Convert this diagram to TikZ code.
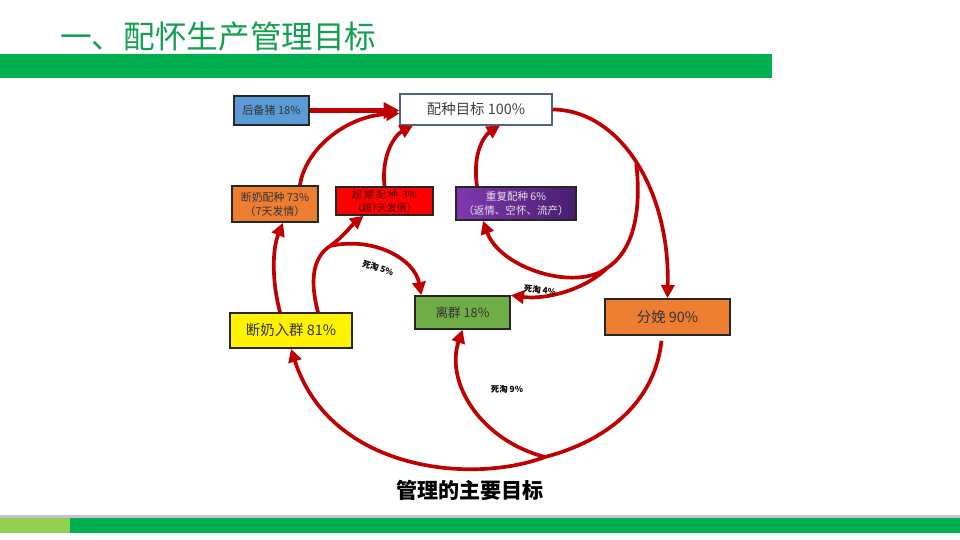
\documentclass[tikz,border=0pt]{standalone}
\usepackage{fontspec}
\setmainfont{Noto Sans CJK SC}
\usetikzlibrary{arrows.meta}

\definecolor{barGreen}{RGB}{0,176,80}
\definecolor{lightGreen}{RGB}{146,208,80}
\definecolor{titleGreen}{RGB}{20,160,80}
\definecolor{lineLav}{RGB}{200,192,215}
\definecolor{arrowRed}{RGB}{192,0,0}
\definecolor{boxBlue}{RGB}{91,155,213}
\definecolor{boxOrange}{RGB}{237,125,49}
\definecolor{boxGreen}{RGB}{112,173,71}
\definecolor{frameGray}{RGB}{80,100,130}

\begin{document}
\begin{tikzpicture}[x=0.02cm, y=-0.02cm,
  box/.style={draw=black!85, line width=0.9pt, inner sep=0pt, align=center, text=black!80},
  link/.style={draw=arrowRed, line width=2.1pt},
  flow/.style={link, -{Triangle[length=7.5pt,width=7.5pt]}},
  cut/.style={font=\bfseries\fontsize{4.8}{5}\selectfont, text=black}]

\fill[white] (0,0) rectangle (960,540);
\useasboundingbox (0,0) rectangle (960,540);

\fill[barGreen] (0,54) rectangle (772,78);
\fill[lineLav] (0,515) rectangle (960,518);
\fill[lightGreen] (0,518) rectangle (70,533);
\fill[barGreen] (70,518) rectangle (960,533);

\node[anchor=west, inner sep=0pt, text=titleGreen, font=\fontsize{18}{20}\selectfont] (title) at (60,37) {一、配怀生产管理目标};
\node[font=\bfseries\fontsize{12}{14}\selectfont] (caption) at (470,490) {管理的主要目标};

\node[box, fill=boxBlue, minimum width=1.5cm, minimum height=0.58cm, font=\fontsize{6.3}{7}\selectfont] (hbz) at (271.5,110.5) {后备猪 18\%};
\node[box, fill=white, draw=frameGray, line width=0.6pt, minimum width=3.04cm, minimum height=0.62cm, font=\fontsize{8.2}{9}\selectfont, text=black!75] (pzmb) at (476,109.5) {配种目标 100\%};
\node[box, fill=boxOrange, minimum width=1.72cm, minimum height=0.72cm, font=\fontsize{6.2}{8}\selectfont] (dnpz) at (275,204) {断奶配种 73\%\\（7天发情）};
\node[box, fill=red, minimum width=1.94cm, minimum height=0.56cm, font=\fontsize{5.6}{7.5}\selectfont, text=black!70!red] (cqpz) at (384.5,201) {超\ 期\ 配\ 种\ \ 3\%\\（超7天发情）};
\node[box, left color={rgb,255:red,128;green,56;blue,176}, right color={rgb,255:red,72;green,30;blue,110}, minimum width=2.4cm, minimum height=0.66cm, font=\fontsize{6}{7.5}\selectfont, text=white!80!gray] (cfpz) at (516,203.5) {重复配种 6\%\\（返情、空怀、流产）};
\node[box, fill=boxGreen, minimum width=1.9cm, minimum height=0.66cm, font=\fontsize{7.2}{8}\selectfont] (lq) at (462.5,312.5) {离群 18\%};
\node[box, fill=boxOrange, minimum width=2.5cm, minimum height=0.72cm, font=\fontsize{8.2}{9}\selectfont] (fm) at (667.5,317) {分娩 90\%};
\node[box, fill=yellow, minimum width=2.44cm, minimum height=0.7cm, font=\fontsize{8.2}{9}\selectfont] (dnrq) at (291,330.5) {断奶入群 81\%};

\draw[flow, line width=2.8pt, -{Triangle[length=9pt,width=9pt]}] (hbz.east) -- (hbz.east -| pzmb.west);
\draw[flow] ([xshift=0.5cm]dnpz.north) .. controls (305,150) and (345,116) .. ([yshift=-0.08cm]pzmb.west);
\draw[flow] (cqpz.north) .. controls (381,155) and (395,135) .. ([xshift=-1.26cm]pzmb.south);
\draw[flow] ([xshift=-0.78cm]cfpz.north) .. controls (472,152) and (485,135) .. ([xshift=0.48cm]pzmb.south);
\draw[flow] (pzmb.east) .. controls (620,110) and (670,190) .. (fm.north) coordinate[pos=0.5] (P1);

\coordinate (P2) at (607,268);
\draw[link] (P1) .. controls (642,215) and (632,252) .. (P2);
\draw[flow] (P2) .. controls (575,292) and (500,268) .. ([xshift=-0.66cm]cfpz.south);
\draw[flow] (P2) .. controls (585,290) and (545,300) .. (lq.north east);
\node[cut, rotate=-6] (cut4) at (540,290) {死淘 4\%};

\draw[flow] ([xshift=-0.22cm]dnrq.north) .. controls (272,282) and (272,250) .. ([xshift=0.16cm]dnpz.south);
\coordinate (Q) at (330,246);
\draw[link] ([xshift=0.54cm]dnrq.north) .. controls (310,282) and (312,258) .. (Q);
\draw[flow] (Q) .. controls (342,238) and (352,225) .. ([xshift=-0.42cm]cqpz.south);
\draw[flow] (Q) .. controls (375,236) and (415,260) .. ([xshift=0.14cm]lq.north west);
\node[cut, rotate=-18] (cut5) at (378,268) {死淘 5\%};

\coordinate (R) at (545,457);
\draw[link] ([xshift=-0.12cm, yshift=-0.1cm]fm.south) .. controls (655,400) and (610,440) .. (R);
\draw[flow] (R) .. controls (470,485) and (330,470) .. (dnrq.south);
\draw[flow] (R) .. controls (480,440) and (445,382) .. (lq.south);
\node[cut] (cut9) at (507,389) {死淘 9\%};

\end{tikzpicture}
\end{document}
